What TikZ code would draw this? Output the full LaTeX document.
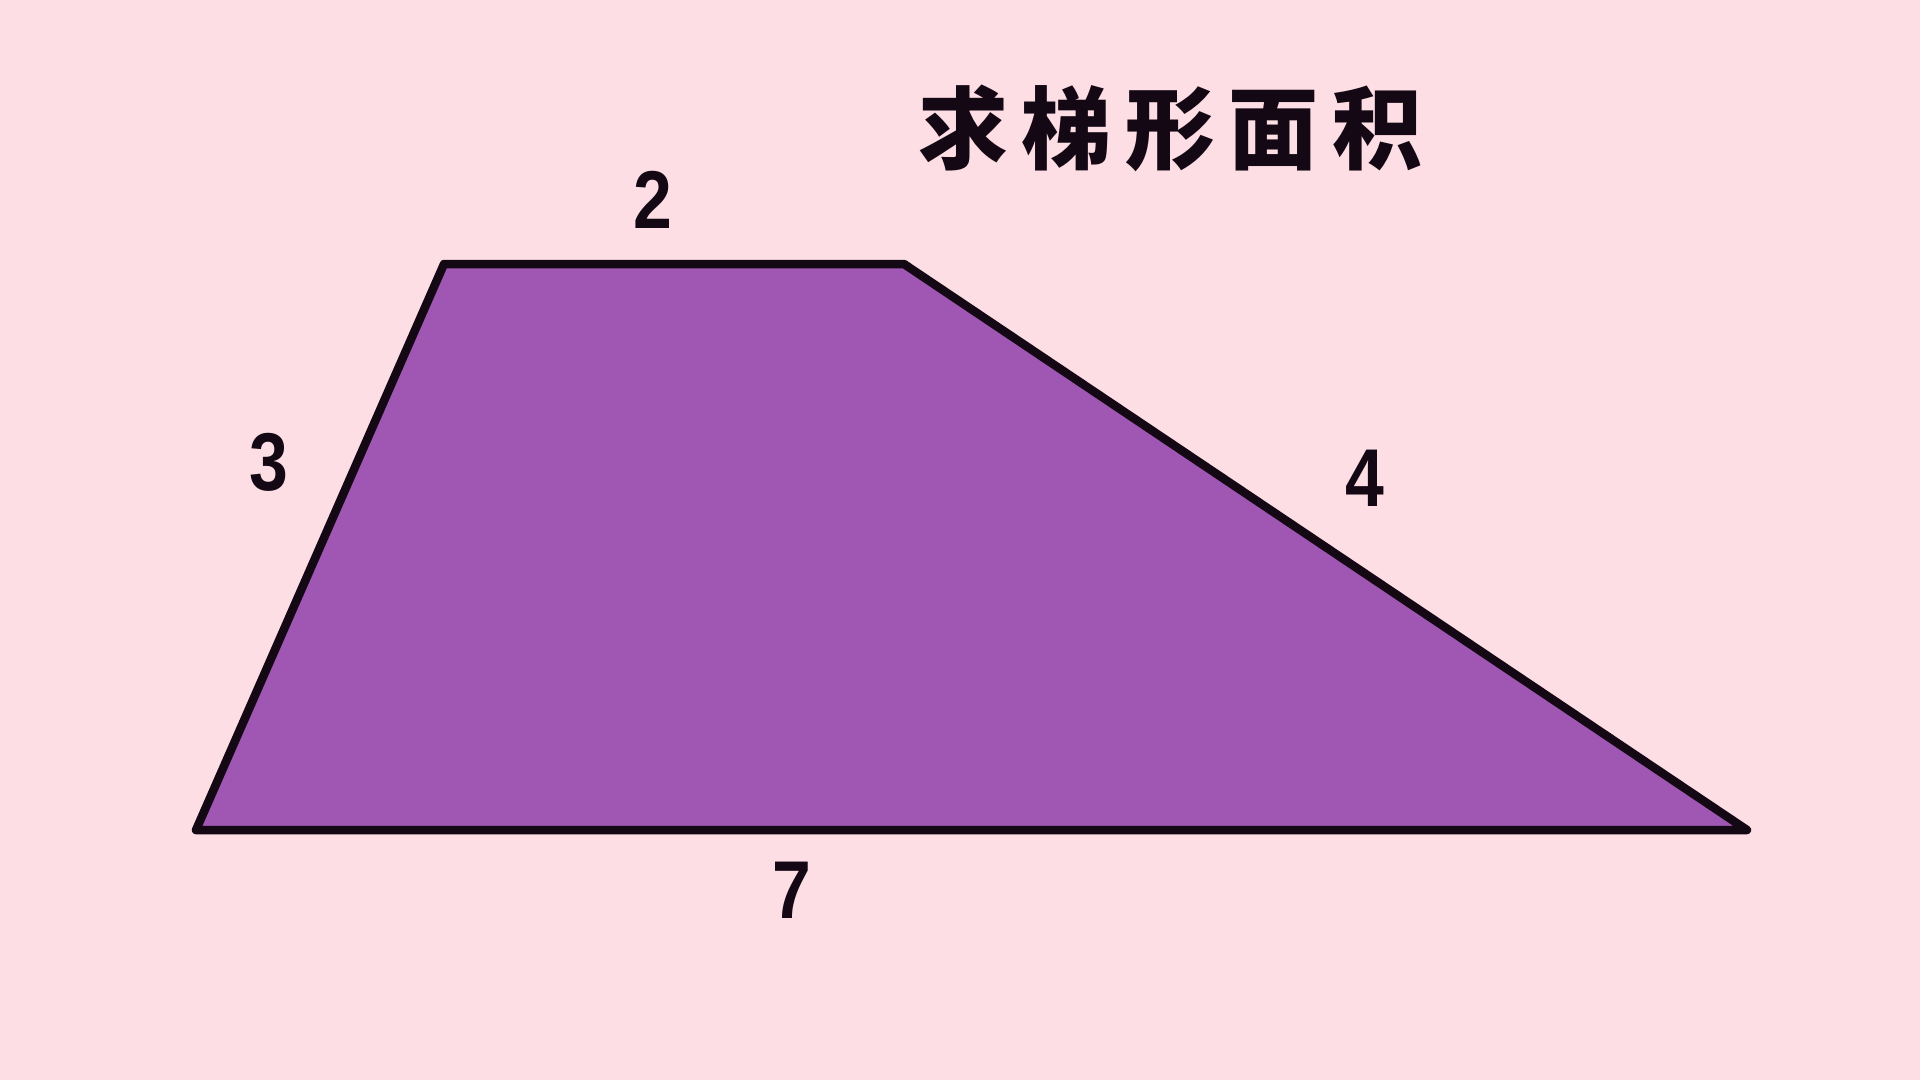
\documentclass[tikz,border=0pt]{standalone}
\usepackage{fontspec}
\setmainfont{Liberation Sans}
\newfontfamily\cjk{Noto Sans CJK SC}
\definecolor{bgpink}{RGB}{252,222,228}
\definecolor{trapfill}{RGB}{160,87,180}
\definecolor{edgeink}{RGB}{20,8,20}
\begin{document}
\begin{tikzpicture}[x=1pt,y=-1pt,
  numlabel/.style={font=\bfseries\fontsize{82}{82}\selectfont, text=edgeink, inner sep=0pt, xscale=0.85},
  titlelabel/.style={font=\cjk\bfseries\fontsize{90}{90}\selectfont\addfontfeature{LetterSpace=15}, text=edgeink, inner sep=0pt}]
\fill[bgpink] (0,0) rectangle (1920,1080);
\useasboundingbox (0,0) rectangle (1920,1080);
\coordinate (tl) at (444,264);
\coordinate (tr) at (904,264);
\coordinate (br) at (1747,830);
\coordinate (bl) at (196,830);
\draw[fill=trapfill, draw=edgeink, line width=8.5pt, line join=round, line cap=round]
  (tl) -- (tr) -- (br) -- (bl) -- cycle;
\node[titlelabel] (title) at (1170,128) {求梯形面积};
\node[numlabel] (two) at (653,200) {2};
\node[numlabel] (three) at (269,462) {3};
\node[numlabel] (four) at (1365,478) {4};
\node[numlabel] (seven) at (792,890) {7};
\end{tikzpicture}
\end{document}
